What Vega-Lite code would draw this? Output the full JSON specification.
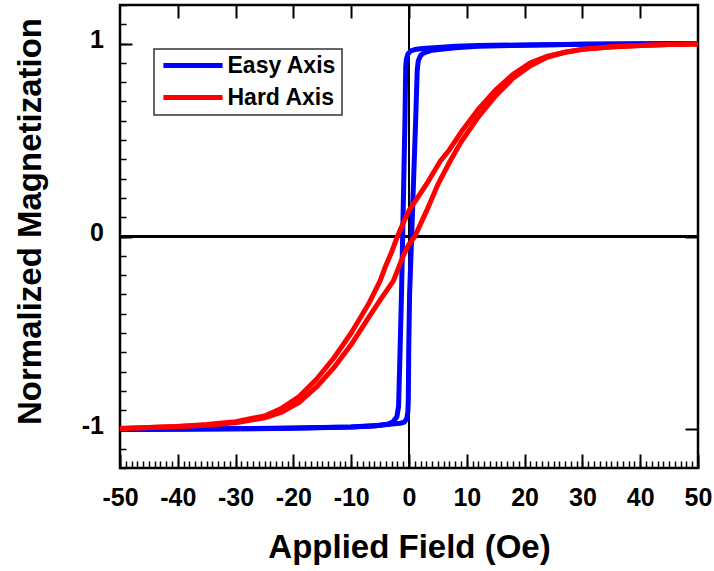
{
  "$schema": "https://vega.github.io/schema/vega-lite/v6.json",
  "width": 578,
  "height": 463,
  "autosize": "none",
  "padding": {"left": 120, "top": 5, "right": 16, "bottom": 103},
  "background": "white",
  "config": {
    "view": {"stroke": "black", "strokeWidth": 2.5},
    "font": "Liberation Sans",
    "legend": {"strokeWidth": 1.5}
  },
  "data": {
    "values": [
      {"s": "Easy Axis", "b": "E1", "h": 50, "m": 1.0},
      {"s": "Easy Axis", "b": "E1", "h": 40, "m": 0.998},
      {"s": "Easy Axis", "b": "E1", "h": 30, "m": 0.996},
      {"s": "Easy Axis", "b": "E1", "h": 20, "m": 0.993},
      {"s": "Easy Axis", "b": "E1", "h": 12, "m": 0.99},
      {"s": "Easy Axis", "b": "E1", "h": 8, "m": 0.986},
      {"s": "Easy Axis", "b": "E1", "h": 5, "m": 0.98},
      {"s": "Easy Axis", "b": "E1", "h": 3, "m": 0.976},
      {"s": "Easy Axis", "b": "E1", "h": 2, "m": 0.973},
      {"s": "Easy Axis", "b": "E1", "h": 1, "m": 0.969},
      {"s": "Easy Axis", "b": "E1", "h": 0.3, "m": 0.962},
      {"s": "Easy Axis", "b": "E1", "h": -0.2, "m": 0.945},
      {"s": "Easy Axis", "b": "E1", "h": -0.45, "m": 0.92},
      {"s": "Easy Axis", "b": "E1", "h": -0.57, "m": 0.88},
      {"s": "Easy Axis", "b": "E1", "h": -0.7, "m": 0.6},
      {"s": "Easy Axis", "b": "E1", "h": -0.9, "m": 0.3},
      {"s": "Easy Axis", "b": "E1", "h": -1.1, "m": 0.0},
      {"s": "Easy Axis", "b": "E1", "h": -1.3, "m": -0.3},
      {"s": "Easy Axis", "b": "E1", "h": -1.55, "m": -0.6},
      {"s": "Easy Axis", "b": "E1", "h": -1.8, "m": -0.88},
      {"s": "Easy Axis", "b": "E1", "h": -2.1, "m": -0.935},
      {"s": "Easy Axis", "b": "E1", "h": -2.7, "m": -0.958},
      {"s": "Easy Axis", "b": "E1", "h": -3.5, "m": -0.972},
      {"s": "Easy Axis", "b": "E1", "h": -6, "m": -0.982},
      {"s": "Easy Axis", "b": "E1", "h": -10, "m": -0.988},
      {"s": "Easy Axis", "b": "E1", "h": -20, "m": -0.994},
      {"s": "Easy Axis", "b": "E1", "h": -30, "m": -0.997},
      {"s": "Easy Axis", "b": "E1", "h": -40, "m": -0.999},
      {"s": "Easy Axis", "b": "E1", "h": -50, "m": -1.0},
      {"s": "Easy Axis", "b": "E2", "h": -50, "m": -1.0},
      {"s": "Easy Axis", "b": "E2", "h": -40, "m": -0.998},
      {"s": "Easy Axis", "b": "E2", "h": -30, "m": -0.996},
      {"s": "Easy Axis", "b": "E2", "h": -20, "m": -0.993},
      {"s": "Easy Axis", "b": "E2", "h": -10, "m": -0.988},
      {"s": "Easy Axis", "b": "E2", "h": -5, "m": -0.978},
      {"s": "Easy Axis", "b": "E2", "h": -3, "m": -0.972},
      {"s": "Easy Axis", "b": "E2", "h": -1.5, "m": -0.968},
      {"s": "Easy Axis", "b": "E2", "h": -0.8, "m": -0.962},
      {"s": "Easy Axis", "b": "E2", "h": -0.4, "m": -0.945},
      {"s": "Easy Axis", "b": "E2", "h": -0.2, "m": -0.91},
      {"s": "Easy Axis", "b": "E2", "h": -0.12, "m": -0.85},
      {"s": "Easy Axis", "b": "E2", "h": -0.05, "m": -0.6},
      {"s": "Easy Axis", "b": "E2", "h": 0.1, "m": -0.3},
      {"s": "Easy Axis", "b": "E2", "h": 0.46, "m": 0.0},
      {"s": "Easy Axis", "b": "E2", "h": 0.8, "m": 0.3},
      {"s": "Easy Axis", "b": "E2", "h": 1.15, "m": 0.6},
      {"s": "Easy Axis", "b": "E2", "h": 1.42, "m": 0.86},
      {"s": "Easy Axis", "b": "E2", "h": 1.6, "m": 0.91},
      {"s": "Easy Axis", "b": "E2", "h": 2.0, "m": 0.938},
      {"s": "Easy Axis", "b": "E2", "h": 2.6, "m": 0.952},
      {"s": "Easy Axis", "b": "E2", "h": 4, "m": 0.966},
      {"s": "Easy Axis", "b": "E2", "h": 8, "m": 0.978},
      {"s": "Easy Axis", "b": "E2", "h": 12, "m": 0.986},
      {"s": "Easy Axis", "b": "E2", "h": 20, "m": 0.992},
      {"s": "Easy Axis", "b": "E2", "h": 30, "m": 0.997},
      {"s": "Easy Axis", "b": "E2", "h": 40, "m": 0.999},
      {"s": "Easy Axis", "b": "E2", "h": 50, "m": 1.0},
      {"s": "Hard Axis", "b": "H1", "h": 50, "m": 0.998},
      {"s": "Hard Axis", "b": "H1", "h": 45, "m": 0.995},
      {"s": "Hard Axis", "b": "H1", "h": 40, "m": 0.99},
      {"s": "Hard Axis", "b": "H1", "h": 35, "m": 0.983},
      {"s": "Hard Axis", "b": "H1", "h": 30, "m": 0.97},
      {"s": "Hard Axis", "b": "H1", "h": 27, "m": 0.955},
      {"s": "Hard Axis", "b": "H1", "h": 24, "m": 0.935},
      {"s": "Hard Axis", "b": "H1", "h": 21, "m": 0.9},
      {"s": "Hard Axis", "b": "H1", "h": 18, "m": 0.84},
      {"s": "Hard Axis", "b": "H1", "h": 15, "m": 0.76},
      {"s": "Hard Axis", "b": "H1", "h": 12, "m": 0.66},
      {"s": "Hard Axis", "b": "H1", "h": 9, "m": 0.54},
      {"s": "Hard Axis", "b": "H1", "h": 7, "m": 0.45},
      {"s": "Hard Axis", "b": "H1", "h": 5.4, "m": 0.39},
      {"s": "Hard Axis", "b": "H1", "h": 3, "m": 0.27},
      {"s": "Hard Axis", "b": "H1", "h": 1, "m": 0.18},
      {"s": "Hard Axis", "b": "H1", "h": 0, "m": 0.135},
      {"s": "Hard Axis", "b": "H1", "h": -1, "m": 0.07},
      {"s": "Hard Axis", "b": "H1", "h": -2, "m": 0.0},
      {"s": "Hard Axis", "b": "H1", "h": -3, "m": -0.08},
      {"s": "Hard Axis", "b": "H1", "h": -4, "m": -0.15},
      {"s": "Hard Axis", "b": "H1", "h": -5, "m": -0.23},
      {"s": "Hard Axis", "b": "H1", "h": -7, "m": -0.35},
      {"s": "Hard Axis", "b": "H1", "h": -10, "m": -0.5},
      {"s": "Hard Axis", "b": "H1", "h": -13, "m": -0.63},
      {"s": "Hard Axis", "b": "H1", "h": -16, "m": -0.74},
      {"s": "Hard Axis", "b": "H1", "h": -19, "m": -0.83},
      {"s": "Hard Axis", "b": "H1", "h": -22, "m": -0.89},
      {"s": "Hard Axis", "b": "H1", "h": -25, "m": -0.93},
      {"s": "Hard Axis", "b": "H1", "h": -30, "m": -0.96},
      {"s": "Hard Axis", "b": "H1", "h": -35, "m": -0.975},
      {"s": "Hard Axis", "b": "H1", "h": -40, "m": -0.985},
      {"s": "Hard Axis", "b": "H1", "h": -45, "m": -0.99},
      {"s": "Hard Axis", "b": "H1", "h": -50, "m": -0.995},
      {"s": "Hard Axis", "b": "H2", "h": -50, "m": -0.995},
      {"s": "Hard Axis", "b": "H2", "h": -45, "m": -0.99},
      {"s": "Hard Axis", "b": "H2", "h": -40, "m": -0.985},
      {"s": "Hard Axis", "b": "H2", "h": -35, "m": -0.978},
      {"s": "Hard Axis", "b": "H2", "h": -30, "m": -0.965},
      {"s": "Hard Axis", "b": "H2", "h": -25, "m": -0.94},
      {"s": "Hard Axis", "b": "H2", "h": -22, "m": -0.91},
      {"s": "Hard Axis", "b": "H2", "h": -19, "m": -0.86},
      {"s": "Hard Axis", "b": "H2", "h": -16, "m": -0.78},
      {"s": "Hard Axis", "b": "H2", "h": -13, "m": -0.68},
      {"s": "Hard Axis", "b": "H2", "h": -10, "m": -0.56},
      {"s": "Hard Axis", "b": "H2", "h": -7, "m": -0.42},
      {"s": "Hard Axis", "b": "H2", "h": -5, "m": -0.33},
      {"s": "Hard Axis", "b": "H2", "h": -2.7, "m": -0.23},
      {"s": "Hard Axis", "b": "H2", "h": -1, "m": -0.1},
      {"s": "Hard Axis", "b": "H2", "h": 0, "m": -0.04},
      {"s": "Hard Axis", "b": "H2", "h": 1, "m": 0.0},
      {"s": "Hard Axis", "b": "H2", "h": 3, "m": 0.13},
      {"s": "Hard Axis", "b": "H2", "h": 5, "m": 0.27},
      {"s": "Hard Axis", "b": "H2", "h": 7.1, "m": 0.39},
      {"s": "Hard Axis", "b": "H2", "h": 9, "m": 0.49},
      {"s": "Hard Axis", "b": "H2", "h": 12, "m": 0.62},
      {"s": "Hard Axis", "b": "H2", "h": 15, "m": 0.73},
      {"s": "Hard Axis", "b": "H2", "h": 18, "m": 0.82},
      {"s": "Hard Axis", "b": "H2", "h": 21, "m": 0.885},
      {"s": "Hard Axis", "b": "H2", "h": 24, "m": 0.93},
      {"s": "Hard Axis", "b": "H2", "h": 27, "m": 0.955},
      {"s": "Hard Axis", "b": "H2", "h": 30, "m": 0.97},
      {"s": "Hard Axis", "b": "H2", "h": 35, "m": 0.982},
      {"s": "Hard Axis", "b": "H2", "h": 40, "m": 0.99},
      {"s": "Hard Axis", "b": "H2", "h": 45, "m": 0.995},
      {"s": "Hard Axis", "b": "H2", "h": 50, "m": 0.998}
    ]
  },
  "resolve": {"axis": {"x": "independent", "y": "independent"}},
  "layer": [
    {
      "mark": {"type": "rule", "color": "black", "strokeWidth": 2},
      "encoding": {
        "x": {
          "datum": 0, "type": "quantitative",
          "scale": {"domain": [-50, 50], "nice": false, "zero": false},
          "axis": {
            "orient": "bottom", "title": null, "labels": false, "domain": false, "grid": false,
            "tickSize": -7, "tickWidth": 1.5, "tickColor": "black",
            "values": [-50,-49,-48,-47,-46,-45,-44,-43,-42,-41,-40,-39,-38,-37,-36,-35,-34,-33,-32,-31,-30,-29,-28,-27,-26,-25,-24,-23,-22,-21,-20,-19,-18,-17,-16,-15,-14,-13,-12,-11,-10,-9,-8,-7,-6,-5,-4,-3,-2,-1,0,1,2,3,4,5,6,7,8,9,10,11,12,13,14,15,16,17,18,19,20,21,22,23,24,25,26,27,28,29,30,31,32,33,34,35,36,37,38,39,40,41,42,43,44,45,46,47,48,49,50]
          }
        },
        "y": {
          "datum": -1.2, "type": "quantitative",
          "scale": {"domain": [-1.2, 1.2], "nice": false, "zero": false},
          "axis": {
            "orient": "right", "title": null, "labels": false, "domain": false, "grid": false,
            "tickSize": -13, "tickWidth": 2, "tickColor": "black",
            "values": [-1, 0, 1]
          }
        },
        "y2": {"datum": 1.2}
      }
    },
    {
      "mark": {"type": "rule", "color": "black", "strokeWidth": 2},
      "encoding": {
        "y": {
          "datum": 0, "type": "quantitative",
          "axis": {
            "orient": "left", "title": null, "labels": false, "domain": false, "grid": false,
            "tickSize": -6, "tickWidth": 1.5, "tickColor": "black",
            "values": [-1.2,-1.1,-1,-0.9,-0.8,-0.7,-0.6,-0.5,-0.4,-0.3,-0.2,-0.1,0,0.1,0.2,0.3,0.4,0.5,0.6,0.7,0.8,0.9,1,1.1,1.2]
          }
        },
        "x": {
          "datum": -50, "type": "quantitative",
          "axis": {
            "orient": "top", "title": null, "labels": false, "domain": false, "grid": false,
            "tickSize": -13, "tickWidth": 2, "tickColor": "black",
            "values": [-40, -30, -20, -10, 0, 10, 20, 30, 40]
          }
        },
        "x2": {"datum": 50}
      }
    },
    {
      "mark": {"type": "line", "strokeWidth": 5, "strokeJoin": "round", "strokeCap": "round", "clip": true},
      "encoding": {
        "x": {
          "field": "h", "type": "quantitative",
          "axis": {
            "orient": "bottom", "domain": false, "grid": false,
            "values": [-50, -40, -30, -20, -10, 0, 10, 20, 30, 40, 50],
            "tickSize": -14, "tickWidth": 2, "tickColor": "black",
            "labelExpr": "datum.value + ''",
            "labelFont": "Liberation Sans", "labelFontWeight": "bold", "labelFontSize": 25, "labelColor": "black",
            "labelBaseline": "alphabetic", "labelPadding": 51, "labelFlush": false, "labelOverlap": false,
            "title": "Applied Field (Oe)", "titleFont": "Liberation Sans", "titleFontWeight": "bold", "titleFontSize": 33,
            "titleColor": "black", "titleBaseline": "alphabetic", "titleY": 89.5
          }
        },
        "y": {
          "field": "m", "type": "quantitative",
          "axis": {
            "orient": "left", "domain": false, "grid": false,
            "values": [-1, 0, 1],
            "tickSize": -12, "tickWidth": 2, "tickColor": "black",
            "labelExpr": "datum.value + ''",
            "labelFont": "Liberation Sans", "labelFontWeight": "bold", "labelFontSize": 25, "labelColor": "black",
            "labelBaseline": "middle", "labelOffset": -4, "labelPadding": 28.5, "labelFlush": false, "labelOverlap": false,
            "title": "Normalized Magnetization", "titleFont": "Liberation Sans", "titleFontWeight": "bold", "titleFontSize": 33,
            "titleColor": "black", "titleBaseline": "alphabetic", "titleAngle": -90, "titleX": -79.4, "titleY": 216
          }
        },
        "detail": {"field": "b"},
        "color": {
          "field": "s", "type": "nominal",
          "scale": {"domain": ["Easy Axis", "Hard Axis"], "range": ["#0000FF", "#FF0000"]},
          "legend": {
            "title": null, "orient": "none", "legendX": 34, "legendY": 44,
            "strokeColor": "#333333", "fillColor": "white", "padding": 5,
            "symbolType": "M-3.7,0H3.7", "symbolSize": 256, "symbolStrokeWidth": 5, "symbolOffset": 22.5,
            "labelOffset": 23, "labelFont": "Liberation Sans", "labelFontWeight": "bold", "labelFontSize": 23,
            "labelColor": "black", "rowPadding": 8
          }
        }
      }
    }
  ]
}
